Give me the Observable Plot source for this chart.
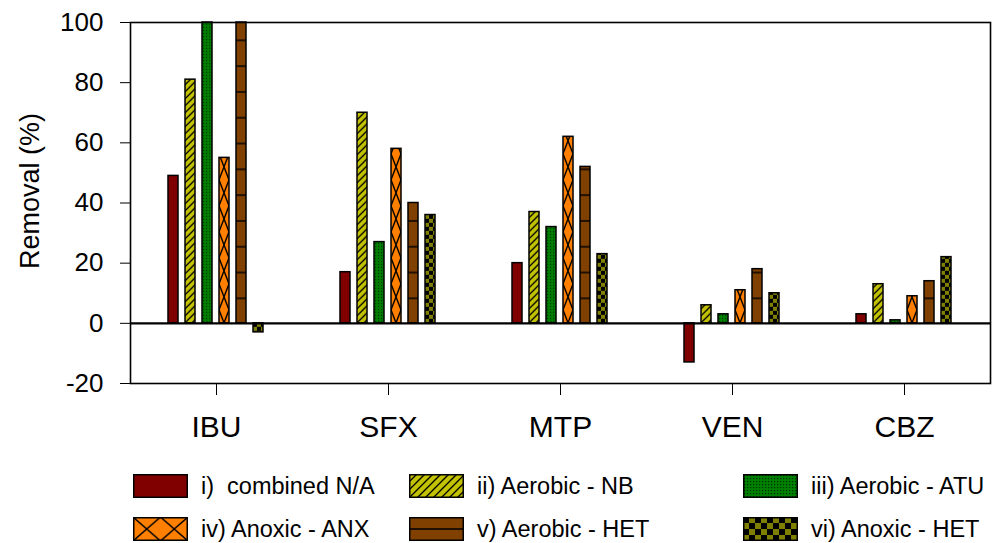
<!DOCTYPE html>
<html>
<head>
<meta charset="utf-8">
<script src="https://cdn.jsdelivr.net/npm/d3@7"></script>
<script src="https://cdn.jsdelivr.net/npm/@observablehq/plot@0.6"></script>
<style>
  html, body { margin: 0; padding: 0; background: #fff; }
  body { width: 992px; height: 543px; position: relative; overflow: hidden;
         font-family: Arial, "Liberation Sans", sans-serif; color: #000; }
  #chart { position: absolute; left: 0; top: 0; }
  #legend { position: absolute; left: 133px; top: 474px; display: grid;
            grid-template-columns: 276px 334px 249px; row-gap: 18.5px; }
  .item { display: flex; align-items: center; height: 24px; }
  .item svg { flex: none; overflow: visible; }
  .item span { margin-left: 13px; font-size: 23.5px; white-space: pre; line-height: 24px; }
  #patdefs { position: absolute; width: 0; height: 0; }
</style>
</head>
<body>
<div id="chart"></div>
<div id="legend"></div>
<svg id="patdefs" aria-hidden="true"><defs></defs></svg>
<script>
// Compounds on the x axis
const compounds = ["IBU", "SFX", "MTP", "VEN", "CBZ"];

// Treatment series (one bar each per compound)
const seriesKeys = ["i", "ii", "iii", "iv", "v", "vi"];
const seriesNames = [
  "i)  combined N/A",
  "ii) Aerobic - NB",
  "iii) Aerobic - ATU",
  "iv) Anoxic - ANX",
  "v) Aerobic - HET",
  "vi) Anoxic - HET"
];

// Removal (%) per compound, in the order of `compounds`
const combinedNA = [49, 17, 20, -13, 3];
const aerobicNB  = [81, 70, 37, 6, 13];
const aerobicATU = [100, 27, 32, 3, 1];
const anoxicANX  = [55, 58, 62, 11, 9];
const aerobicHET = [100, 40, 52, 18, 14];
const anoxicHET  = [-3, 36, 23, 10, 22];

const yTicks = [-20, 0, 20, 40, 60, 80, 100];

const seriesValues = [combinedNA, aerobicNB, aerobicATU, anoxicANX, aerobicHET, anoxicHET];

const rows = [];
seriesKeys.forEach((key, s) => {
  compounds.forEach((c, i) => {
    rows.push({compound: c, key, value: seriesValues[s][i]});
  });
});

const font = "Arial, 'Liberation Sans', sans-serif";

const plot = Plot.plot({
  width: 992,
  height: 455,
  marginLeft: 128,
  marginRight: 3,
  marginTop: 22,
  marginBottom: 72,
  style: {fontFamily: font, background: "#fff", color: "#000", overflow: "visible"},
  fx: {domain: compounds, padding: 0, range: [130, 990], axis: null, label: null},
  x: {domain: seriesKeys, paddingInner: 0.4, paddingOuter: 2.2, axis: null, label: null},
  y: {domain: [-20, 100], axis: null, label: null},
  color: {type: "identity"},
  marks: [
    Plot.barY(rows, {
      fx: "compound",
      x: "key",
      y1: 0,
      y2: "value",
      fill: d => `url(#pat-${d.key})`,
      stroke: "#000",
      strokeWidth: 1.5
    }),
    Plot.ruleY([0], {stroke: "#000", strokeWidth: 2.2}),
    Plot.frame({facet: "super", stroke: "#000", strokeWidth: 1.6}),
    Plot.axisY({
      ticks: yTicks,
      tickFormat: d => String(d),
      tickSize: 10,
      tickPadding: 17,
      fontSize: 26,
      label: null
    }),
    Plot.axisFx({
      anchor: "bottom",
      tickSize: 12,
      tickPadding: 20,
      fontSize: 30,
      label: null
    }),
    Plot.text(["Removal (%)"], {
      facet: "super",
      frameAnchor: "left",
      textAnchor: "middle",
      lineAnchor: "middle",
      rotate: -90,
      dx: -100,
      dy: -12,
      fontSize: 27
    })
  ]
});

document.getElementById("chart").appendChild(plot);
const svg = plot.tagName.toLowerCase() === "svg" ? plot : plot.querySelector("svg");
svg.querySelectorAll("line, path").forEach(el => {
  if (el.getAttribute("stroke") === "currentColor") el.setAttribute("stroke", "#000");
});

// Fill patterns for the bars, anchored on each series' band and the zero line
const xs = plot.scale("x");
const ys = plot.scale("y");
const bw = xs.bandwidth;
const y0 = ys.apply(0);
const X = k => xs.apply(k);

const colors = {
  i: "#800000", ii: "#c2c200", iii: "#008000", iv: "#ff8000", v: "#804000", vi: "#808000"
};

function pattern(defs, id, w, h, x, y, draw) {
  const p = defs.append("pattern")
    .attr("id", id)
    .attr("patternUnits", "userSpaceOnUse")
    .attr("x", x).attr("y", y)
    .attr("width", w).attr("height", h);
  draw(p);
  return p;
}

const barDefs = d3.select(svg).insert("defs", ":first-child");

pattern(barDefs, "pat-i", 10, 10, 0, 0, p =>
  p.append("rect").attr("width", 10).attr("height", 10).attr("fill", colors.i));

pattern(barDefs, "pat-ii", 7, 7, X("ii"), y0, p => {
  p.append("rect").attr("width", 7).attr("height", 7).attr("fill", colors.ii);
  p.append("path").attr("d", "M-1,1L1,-1M0,7L7,0M6,8L8,6")
    .attr("stroke", "#000").attr("stroke-width", 1.3);
});

pattern(barDefs, "pat-iii", 3, 3, X("iii"), y0, p => {
  p.append("rect").attr("width", 3).attr("height", 3).attr("fill", colors.iii);
  p.append("rect").attr("x", 1).attr("y", 1).attr("width", 1.2).attr("height", 1.2).attr("fill", "#003000");
});

pattern(barDefs, "pat-iv", bw, 26, X("iv"), y0 - 13, p => {
  p.append("rect").attr("width", bw).attr("height", 26).attr("fill", colors.iv);
  p.append("path").attr("d", `M0,0L${bw},26M${bw},0L0,26`)
    .attr("stroke", "#000").attr("stroke-width", 1.4).attr("fill", "none");
});

pattern(barDefs, "pat-v", bw, 25.8, X("v"), y0 - 24.5 - 12.9, p => {
  p.append("rect").attr("width", bw).attr("height", 25.8).attr("fill", colors.v);
  p.append("path").attr("d", `M0,12.9H${bw}`).attr("stroke", "#000").attr("stroke-width", 1.5);
});

pattern(barDefs, "pat-vi", 8, 8, X("vi"), y0, p => {
  p.append("rect").attr("width", 8).attr("height", 8).attr("fill", colors.vi);
  p.append("rect").attr("width", 4).attr("height", 4).attr("fill", "#000");
  p.append("rect").attr("x", 4).attr("y", 4).attr("width", 4).attr("height", 4).attr("fill", "#000");
});

// Legend swatch patterns
const lgDefs = d3.select("#patdefs defs");
const SW = 55, SH = 24;

pattern(lgDefs, "lg-i", 10, 10, 0, 0, p =>
  p.append("rect").attr("width", 10).attr("height", 10).attr("fill", colors.i));

pattern(lgDefs, "lg-ii", 8, 8, 0, 0, p => {
  p.append("rect").attr("width", 8).attr("height", 8).attr("fill", colors.ii);
  p.append("path").attr("d", "M-1,1L1,-1M0,8L8,0M7,9L9,7")
    .attr("stroke", "#000").attr("stroke-width", 1.3);
});

pattern(lgDefs, "lg-iii", 3, 3, 0, 0, p => {
  p.append("rect").attr("width", 3).attr("height", 3).attr("fill", colors.iii);
  p.append("rect").attr("x", 1).attr("y", 1).attr("width", 1.2).attr("height", 1.2).attr("fill", "#003000");
});

pattern(lgDefs, "lg-iv", SW / 2, SH, 0, 0, p => {
  p.append("rect").attr("width", SW / 2).attr("height", SH).attr("fill", colors.iv);
  p.append("path").attr("d", `M0,0L${SW / 2},${SH}M${SW / 2},0L0,${SH}`)
    .attr("stroke", "#000").attr("stroke-width", 1.4).attr("fill", "none");
});

pattern(lgDefs, "lg-v", SW, SH, 0, 0, p => {
  p.append("rect").attr("width", SW).attr("height", SH).attr("fill", colors.v);
  p.append("path").attr("d", `M0,${SH / 2}H${SW}`).attr("stroke", "#000").attr("stroke-width", 1.5);
});

pattern(lgDefs, "lg-vi", 12, 12, 0, 0, p => {
  p.append("rect").attr("width", 12).attr("height", 12).attr("fill", colors.vi);
  p.append("rect").attr("width", 6).attr("height", 6).attr("fill", "#000");
  p.append("rect").attr("x", 6).attr("y", 6).attr("width", 6).attr("height", 6).attr("fill", "#000");
});

// Legend: three columns, two rows, filled row by row
const legend = d3.select("#legend");
seriesKeys.forEach((key, s) => {
  const item = legend.append("div").attr("class", "item");
  item.append("svg")
    .attr("width", SW).attr("height", SH)
    .append("rect")
    .attr("x", 0.75).attr("y", 0.75)
    .attr("width", SW - 1.5).attr("height", SH - 1.5)
    .attr("fill", `url(#lg-${key})`)
    .attr("stroke", "#000").attr("stroke-width", 1.5);
  item.append("span").text(seriesNames[s]);
});
</script>
</body>
</html>
